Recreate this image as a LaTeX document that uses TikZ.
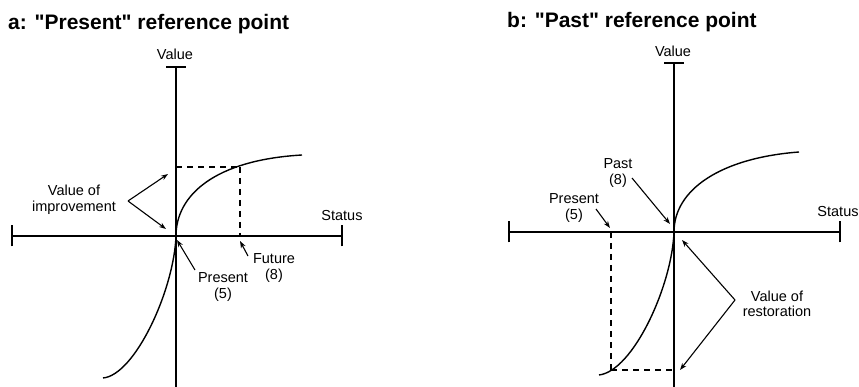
\documentclass[tikz,border=0pt]{standalone}
\usepackage{fontspec}
\setmainfont{Liberation Sans}[Ligatures=TeXOff]
\usetikzlibrary{arrows.meta}
\begin{document}
\begin{tikzpicture}[x=1pt,y=-1pt,
  axis/.style={line width=1.4pt},
  curve/.style={line width=1.4pt},
  guide/.style={line width=1.8pt, dash pattern=on 6pt off 5pt},
  pointer/.style={line width=1.1pt, -{Stealth[length=7pt,width=5pt]}},
  lbl/.style={font=\fontsize{14.5}{15.5}\selectfont, align=center, inner sep=0pt},
  ttl/.style={font=\bfseries\fontsize{21}{24}\selectfont, inner sep=0pt, anchor=base west}]
\useasboundingbox (0,0) rectangle (859,387);

% ---------- Panel a: "Present" reference point ----------
\node[ttl] (titleA) at (8,30) {a: "Present" reference point};

\coordinate (oA) at (176,236);
\coordinate (vTopA) at (176,67);
\coordinate (vBotA) at (176,387);
\coordinate (hLeftA) at (12,236);
\coordinate (hRightA) at (342,236);
\draw[axis] (vTopA) -- (vBotA);
\draw[axis] ([xshift=-10pt]vTopA) -- ([xshift=10pt]vTopA);
\draw[axis] (hLeftA) -- (hRightA);
\draw[axis] ([yshift=-10.5pt]hLeftA) -- ([yshift=10.5pt]hLeftA);
\draw[axis] ([yshift=-10.5pt]hRightA) -- ([yshift=10.5pt]hRightA);

\node[lbl, anchor=base] (valueA) at (175,60) {Value};
\node[lbl, anchor=base] (statusA) at (342,221) {Status};

% value function
\draw[curve] (oA) .. controls (176,195) and (215,160) .. (302,155);
\draw[curve] (oA) .. controls (174,290) and (135,375) .. (103,378);

% future level
\coordinate (futA) at (240,167);
\draw[guide] (176,167) -- (futA);
\draw[guide] (futA) -- (240,236);

\node[lbl] (improve) at (74,200) {Value of\\improvement};
\coordinate (forkA) at (128,201);
\draw[pointer] (forkA) -- (168,174);
\draw[pointer] (forkA) -- (166,229);

\node[lbl] (presentA) at (223,287) {Present\\(5)};
\draw[pointer] (195,270) -- (177,240);

\node[lbl] (futureA) at (274,268) {Future\\(8)};
\draw[pointer] (248,256) -- (240,241);

% ---------- Panel b: "Past" reference point ----------
\node[ttl] (titleB) at (507,28) {b: "Past" reference point};

\coordinate (oB) at (674,232);
\coordinate (vTopB) at (674,63);
\coordinate (vBotB) at (674,387);
\coordinate (hLeftB) at (509,232);
\coordinate (hRightB) at (840,232);
\draw[axis] (vTopB) -- (vBotB);
\draw[axis] ([xshift=-10pt]vTopB) -- ([xshift=10pt]vTopB);
\draw[axis] (hLeftB) -- (hRightB);
\draw[axis] ([yshift=-10.5pt]hLeftB) -- ([yshift=10.5pt]hLeftB);
\draw[axis] ([yshift=-10.5pt]hRightB) -- ([yshift=10.5pt]hRightB);

\node[lbl, anchor=base] (valueB) at (673,57) {Value};
\node[lbl, anchor=base] (statusB) at (838,217) {Status};

% value function
\draw[curve] (oB) .. controls (674,190) and (720,158) .. (799,152);
\draw[curve] (oB) .. controls (672,286) and (633,371) .. (599,375);

% present level
\coordinate (preB) at (611,370);
\draw[guide] (611,232) -- (preB);
\draw[guide] (preB) -- (674,370);

\node[lbl] (pastB) at (618,173) {Past\\(8)};
\draw[pointer] (632,178) -- (670,224);

\node[lbl] (presentB) at (574,208) {Present\\(5)};
\draw[pointer] (596,209) -- (610,228);

\node[lbl] (restore) at (777,304) {Value of\\restoration};
\coordinate (forkB) at (735,300);
\draw[pointer] (forkB) -- (682,240);
\draw[pointer] (forkB) -- (680,370);
\end{tikzpicture}
\end{document}
